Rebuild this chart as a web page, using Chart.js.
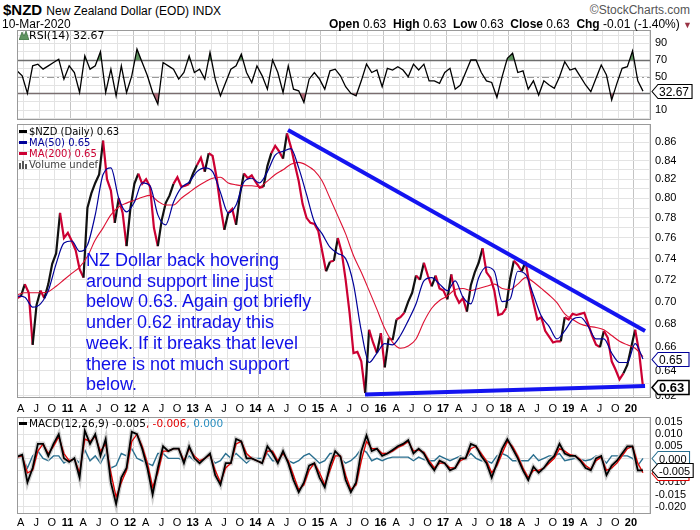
<!DOCTYPE html>
<html>
<head>
<meta charset="utf-8">
<script src="https://cdn.jsdelivr.net/npm/chart.js@4/dist/chart.umd.min.js"></script>
<style>
body{margin:0;background:#fff;font-family:"Liberation Sans",Arial,sans-serif;}
#wrap{position:relative;width:700px;height:530px;overflow:hidden;background:#fff;}
canvas{position:absolute;left:0;}
.t{position:absolute;white-space:nowrap;color:#000;}
.lg{position:absolute;left:19px;font-family:"DejaVu Sans",Verdana,sans-serif;font-size:10px;line-height:11px;white-space:nowrap;}
.dash{display:inline-block;width:8px;height:3px;vertical-align:middle;margin-right:2px;margin-top:-2px;}
#note{position:absolute;left:86px;top:250px;font-size:18px;line-height:20.7px;color:#0f0fe8;white-space:nowrap;}
</style>
</head>
<body>
<div id="wrap">
  <canvas id="rsiChart" width="700" height="90" style="top:30px"></canvas>
  <canvas id="priceChart" width="700" height="290" style="top:124px"></canvas>
  <canvas id="macdChart" width="700" height="113" style="top:417px"></canvas>

  <div class="t" style="left:3px;top:1px;font-size:15px;"><b>$NZD</b> <span style="font-size:12px">New Zealand Dollar (EOD) INDX</span></div>
  <div class="t" style="left:2px;top:17px;font-size:12px;">10-Mar-2020</div>
  <div class="t" style="right:10px;top:3px;font-size:12px;color:#555;">&copy;StockCharts.com</div>
  <div class="t" style="right:8px;top:17px;font-size:12px;"><b>Open</b> 0.63 &nbsp;<b>High</b> 0.63 &nbsp;<b>Low</b> 0.63 &nbsp;<b>Close</b> 0.63 &nbsp;<b>Chg</b> -0.01 (-1.40%) <span style="color:#993344;font-size:9px">&#9660;</span></div>

  <div class="lg" style="top:30px;font-size:11px;">
    <svg width="10" height="10" style="vertical-align:-1px"><polygon points="0,10 3,2 5,6 7,1 10,10" fill="#5f9460" stroke="#2f5f30" stroke-width="0.6"/></svg>RSI(14) 32.67
  </div>
  <div class="lg" style="top:126px;">
    <div><span class="dash" style="background:#000"></span>$NZD (Daily) 0.63</div>
    <div style="color:#000099"><span class="dash" style="background:#000099"></span>MA(50) 0.65</div>
    <div style="color:#cc0033"><span class="dash" style="background:#cc0033"></span>MA(200) 0.65</div>
    <div style="color:#444"><svg width="10" height="9" style="vertical-align:-1px"><rect x="0" y="3" width="2" height="6" fill="#555"/><rect x="3" y="1" width="2" height="8" fill="#555"/><rect x="6" y="4" width="2" height="5" fill="#555"/></svg>Volume undef</div>
  </div>
  <div class="lg" style="top:418px;font-size:10.5px;"><span class="dash" style="background:#000"></span>MACD(12,26,9) -0.005<span style="color:#e00000">, -0.006</span><span style="color:#2b8fc0">, 0.000</span></div>

  <div id="note">NZ Dollar back hovering<br>around support line just<br>below 0.63. Again got briefly<br>under 0.62 intraday this<br>week. If it breaks that level<br>there is not much support<br>below.</div>
</div>

<script>
// sampling grid (decimal years) for each group of series
const priceStart = 2010.145, priceStep = 1/16;
const maStart = 2010.145, maStep = 1/8;
const oscStart = 2010.145, oscStep = 1/12;

// $NZD daily close
const price = [
  0.703,0.705,0.716,0.708,0.662,0.697,0.710,0.703,0.716,0.735,
  0.745,0.785,0.760,0.765,0.757,0.748,0.730,0.722,0.790,0.805,
  0.816,0.825,0.862,0.820,0.808,0.775,0.800,0.785,0.752,0.790,
  0.815,0.826,0.815,0.820,0.812,0.770,0.752,0.778,0.795,0.803,
  0.815,0.822,0.812,0.813,0.815,0.826,0.835,0.843,0.828,0.848,
  0.845,0.822,0.792,0.768,0.785,0.789,0.773,0.804,0.826,0.821,
  0.824,0.817,0.811,0.812,0.834,0.848,0.856,0.850,0.842,0.870,
  0.855,0.836,0.818,0.794,0.780,0.775,0.774,0.767,0.747,0.728,
  0.737,0.738,0.760,0.746,0.720,0.690,0.655,0.656,0.648,0.622,
  0.675,0.664,0.655,0.672,0.643,0.668,0.666,0.684,0.686,0.690,
  0.700,0.708,0.724,0.720,0.736,0.724,0.714,0.724,0.712,0.710,
  0.702,0.725,0.706,0.699,0.703,0.691,0.715,0.727,0.736,0.750,
  0.727,0.722,0.710,0.688,0.689,0.694,0.720,0.738,0.734,0.728,
  0.737,0.715,0.699,0.684,0.686,0.674,0.669,0.664,0.665,0.665,
  0.686,0.684,0.689,0.688,0.689,0.690,0.680,0.670,0.662,0.660,
  0.674,0.668,0.648,0.641,0.633,0.638,0.645,0.660,0.675,0.656,0.627
];
const ma50 = [
  0.705,0.704,0.695,0.698,0.710,0.735,0.755,0.757,0.747,0.753,0.783,0.825,0.832,0.800,0.786,0.796,0.816,0.813,0.783,0.773,0.796,
  0.811,0.817,0.828,0.832,0.828,0.806,0.785,0.793,0.817,0.821,0.816,0.828,0.846,0.850,0.853,0.832,0.804,0.776,0.764,0.751,0.745,
  0.740,0.716,0.674,0.647,0.655,0.663,0.662,0.670,0.683,0.698,0.719,0.722,0.716,0.710,0.719,0.704,0.698,0.722,0.732,0.728,
  0.700,0.702,0.728,0.725,0.706,0.687,0.678,0.667,0.674,0.684,0.686,0.678,0.667,0.667,0.655,0.647,0.647,0.663,0.650
];
const ma200 = [
  0.706,0.708,0.708,0.708,0.709,0.714,0.720,0.726,0.732,0.742,0.758,0.770,0.783,0.791,0.795,0.798,0.801,0.803,0.797,0.793,0.793,
  0.800,0.806,0.812,0.817,0.821,0.822,0.816,0.814,0.813,0.813,0.812,0.818,0.825,0.830,0.836,0.838,0.835,0.829,0.818,0.800,0.782,
  0.764,0.743,0.727,0.710,0.693,0.676,0.664,0.659,0.661,0.667,0.682,0.694,0.701,0.705,0.711,0.712,0.710,0.712,0.714,0.716,
  0.712,0.711,0.716,0.722,0.718,0.712,0.706,0.699,0.689,0.684,0.680,0.678,0.677,0.675,0.670,0.665,0.662,0.659,0.652
];
const rsi = [
  57,51,30,63,65,59,63,67,71,47,
  63,55,31,75,59,63,80,31,59,27,
  63,31,51,83,67,51,31,17,67,63,
  59,47,55,75,55,59,47,79,47,27,
  43,59,63,77,55,43,63,51,35,70,
  55,31,63,35,33,19,47,55,47,35,
  57,59,51,38,30,27,45,65,55,58,
  38,60,58,62,58,50,65,58,65,45,
  45,42,55,60,35,40,55,70,70,55,
  45,43,25,50,72,78,55,57,35,45,
  28,45,40,36,50,68,58,60,50,40,
  32,48,64,52,22,42,60,62,81,45,32.67
];
const macd = [
  0.0007,0.0015,-0.010,-0.004,0.006,0.006,0.001,0.006,0.010,0.000,
  -0.0015,0.000,-0.008,0.0115,0.006,0.010,0.001,0.008,-0.010,-0.019,
  -0.008,-0.004,0.011,0.010,0.004,-0.004,-0.015,-0.004,0.005,0.003,
  0.004,0.004,-0.002,0.005,0.000,-0.002,0.000,0.002,-0.007,-0.011,
  -0.002,-0.002,0.008,0.007,0.000,0.000,-0.001,-0.002,0.005,0.002,
  -0.002,0.003,-0.002,-0.009,-0.014,-0.010,-0.003,-0.002,-0.008,-0.012,
  -0.003,0.003,0.0007,-0.009,-0.014,-0.010,0.003,0.0095,0.003,0.004,
  0.001,0.002,0.0035,0.005,0.006,0.0075,0.002,0.004,0.002,-0.002,
  -0.005,-0.001,-0.002,-0.005,-0.004,0.000,0.000,0.006,0.005,0.001,
  -0.002,-0.008,-0.002,0.004,0.008,0.004,0.000,-0.005,-0.009,-0.0035,
  -0.006,-0.004,-0.001,0.001,0.006,0.002,0.001,0.001,-0.001,-0.004,
  -0.005,0.000,0.001,-0.007,-0.003,-0.001,0.002,0.005,0.005,-0.005,-0.005
];
const signal = [
  0.0005,0.001,-0.006,-0.005,0.003,0.006,0.002,0.005,0.009,0.002,
  -0.001,-0.0003,-0.006,0.008,0.007,0.009,0.003,0.006,-0.006,-0.016,
  -0.010,-0.005,0.007,0.010,0.005,-0.002,-0.012,-0.006,0.003,0.003,
  0.004,0.004,-0.001,0.004,0.001,-0.001,0.000,0.0015,-0.005,-0.010,
  -0.004,-0.002,0.006,0.007,0.002,0.000,-0.001,-0.002,0.003,0.003,
  -0.001,0.002,-0.001,-0.007,-0.013,-0.011,-0.005,-0.002,-0.006,-0.011,
  -0.005,0.001,0.001,-0.007,-0.013,-0.011,-0.001,0.007,0.004,0.004,
  0.002,0.002,0.003,0.0045,0.0055,0.007,0.003,0.0035,0.0025,-0.001,
  -0.004,-0.002,-0.002,-0.004,-0.004,-0.001,0.000,0.004,0.005,0.002,
  -0.001,-0.006,-0.003,0.002,0.007,0.005,0.001,-0.004,-0.008,-0.005,
  -0.005,-0.004,-0.002,0.000,0.004,0.003,0.0015,0.001,-0.0005,-0.003,
  -0.0045,-0.001,0.0005,-0.005,-0.004,-0.002,0.001,0.004,0.005,-0.002,-0.006
];
const hist = [
  0.0002,0.0005,-0.004,0.001,0.003,0.000,-0.001,0.001,0.001,-0.002,
  -0.0005,0.0003,-0.002,0.0035,-0.001,0.001,-0.002,0.002,-0.004,-0.003,
  0.002,0.001,0.004,0.000,-0.001,-0.002,-0.003,0.002,0.002,0.000,
  0.000,0.000,-0.001,0.001,-0.001,-0.001,0.000,0.0005,-0.002,-0.001,
  0.002,0.000,0.002,0.000,-0.002,0.000,0.000,0.000,0.002,-0.001,
  -0.001,0.001,-0.001,-0.002,-0.001,0.001,0.002,0.000,-0.002,-0.001,
  0.002,0.002,0.000,-0.002,-0.001,0.001,0.004,0.0025,-0.001,0.000,
  -0.001,0.000,0.0005,0.0005,0.0005,0.0005,-0.001,0.0005,-0.0005,-0.001,
  -0.001,0.001,0.000,-0.001,0.000,0.001,0.000,0.002,0.000,-0.001,
  -0.001,-0.002,0.001,0.002,0.001,-0.001,-0.001,-0.001,-0.001,0.0015,
  -0.001,0.000,0.001,0.001,0.002,-0.001,-0.0005,0.000,-0.0005,-0.001,
  -0.0005,0.001,0.0005,-0.002,0.001,0.001,0.001,0.001,0.000,-0.003,0.000
];
// hand-drawn trend lines: [start, end] dates and prices
const resistX = [2014.474, 2020.178], resistY = [0.8738, 0.674];
const supportX = [2015.704, 2020.178], supportY = [0.6208, 0.6277];

const xMin = 2010.145, xMax = 2020.273, lastLabel = 2020.2;
const FONT = '"Liberation Sans", Arial, sans-serif';
const RED = '#cc0033';

const pts = (arr, start, step) => arr.map((v, i) => ({x: start + i*step, y: v}));
const isYear = v => v != null && Math.abs(v - Math.round(v)) < 1e-6;

function quarterTicks(){
  const t = [];
  for (let y = 2010; y <= 2020; y++)
    for (let q = 0; q < 4; q++){
      const v = y + q/4;
      if (v >= xMin && v <= xMax) t.push({value: v});
    }
  return t;
}
function tickLabel(v){
  if (v > lastLabel) return '';
  const yr = Math.floor(v + 1e-9), q = Math.round((v - yr)*4);
  return q === 0 ? String(yr % 100).padStart(2, '0') : 'AJO'[q-1];
}

function xAxis(show, pad){
  return {
    type: 'linear', min: xMin, max: xMax,
    afterBuildTicks: a => { a.ticks = quarterTicks(); },
    afterFit: a => { a.height = show ? 16 : 0; a.paddingLeft = 0; a.paddingRight = 0; },
    grid: {color: c => isYear(c.tick && c.tick.value) ? '#c4c4c4' : '#e3e3e3', drawTicks: false},
    border: {display: false},
    ticks: {
      display: show, autoSkip: false, maxRotation: 0, padding: pad, labelOffset: -3, color: '#000',
      font: c => ({family: FONT, size: 11, weight: isYear(c.tick && c.tick.value) ? 'bold' : 'normal'}),
      callback: v => tickLabel(v)
    }
  };
}
function yAxis(extra, ticksExtra){
  return Object.assign({
    position: 'right',
    afterFit: a => { a.width = 49; a.paddingTop = 0; a.paddingBottom = 0; },
    grid: {color: '#e3e3e3', drawTicks: false},
    border: {display: false},
    ticks: Object.assign({padding: 4, autoSkip: false, color: '#000', font: {family: FONT, size: 11}}, ticksExtra)
  }, extra);
}

const framePlugin = {
  id: 'frame',
  afterDatasetsDraw(c){
    const a = c.chartArea, ctx = c.ctx;
    ctx.save();
    ctx.strokeStyle = '#9a9a9a'; ctx.lineWidth = 1;
    ctx.strokeRect(Math.round(a.left) + 0.5, Math.round(a.top) + 0.5, Math.round(a.right - a.left) - 1, Math.round(a.bottom - a.top) - 1);
    ctx.restore();
  }
};
const tagPlugin = {
  id: 'tags',
  afterDraw(c, args, opts){
    const ys = c.scales.y, ctx = c.ctx, L = c.chartArea.right;
    (opts.items || []).forEach(t => {
      const py = Math.round(ys.getPixelForValue(t.value)) + 0.5;
      ctx.save();
      ctx.font = (t.bold ? 'bold 13px ' : (opts.size || 12) + 'px ') + FONT;
      const w = Math.max(38, ctx.measureText(t.text).width + 11);
      ctx.beginPath();
      ctx.moveTo(L + 1, py); ctx.lineTo(L + 7, py - 7); ctx.lineTo(L + w, py - 7);
      ctx.lineTo(L + w, py + 7); ctx.lineTo(L + 7, py + 7); ctx.closePath();
      ctx.fillStyle = '#fff'; ctx.fill();
      ctx.lineWidth = t.bold ? 1.6 : 1.1; ctx.strokeStyle = t.color; ctx.stroke();
      ctx.fillStyle = '#000'; ctx.textBaseline = 'middle'; ctx.textAlign = 'left';
      ctx.fillText(t.text, L + 8, py + 1);
      ctx.restore();
    });
  }
};
const refLinePlugin = {
  id: 'refLines',
  beforeDatasetsDraw(c, args, opts){
    const ys = c.scales.y, a = c.chartArea, ctx = c.ctx;
    (opts.lines || []).forEach(l => {
      const py = Math.round(ys.getPixelForValue(l.value)) + 0.5;
      ctx.save();
      ctx.strokeStyle = l.color; ctx.lineWidth = l.width; ctx.setLineDash(l.dash || []);
      ctx.beginPath(); ctx.moveTo(a.left, py); ctx.lineTo(a.right, py); ctx.stroke();
      ctx.restore();
    });
  }
};

function baseOptions(x, y, plugins){
  return {
    responsive: false, animation: false, events: [],
    layout: {padding: {left: 17, right: 0, top: 0, bottom: 0}},
    elements: {point: {radius: 0}, line: {tension: 0}},
    plugins: Object.assign({legend: {display: false}, tooltip: {enabled: false}}, plugins),
    scales: {x: x, y: y}
  };
}

// RSI panel
const rsiTicks = [0,10,20,30,40,50,60,70,80,90,100];
new Chart(document.getElementById('rsiChart'), {
  type: 'line',
  data: {datasets: [
    {data: pts(rsi, oscStart, oscStep), borderColor: '#000', borderWidth: 1.3,
     fill: {target: {value: 70}, above: '#5f9460', below: 'rgba(0,0,0,0)'}},
    {data: pts(rsi, oscStart, oscStep), borderWidth: 0, borderColor: 'rgba(0,0,0,0)',
     fill: {target: {value: 30}, above: 'rgba(0,0,0,0)', below: '#b06a78'}}
  ]},
  options: baseOptions(xAxis(false, 0),
    yAxis({min: -2, max: 106, afterBuildTicks: a => { a.ticks = rsiTicks.map(v => ({value: v})); }},
          {callback: v => (v % 20 === 10) ? String(v) : ''}),
    {tags: {items: [{value: rsi[rsi.length-1], text: '32.67', color: '#000'}]},
     refLines: {lines: [
       {value: 70, color: '#6e6e6e', width: 1.5},
       {value: 30, color: '#6e6e6e', width: 1.5},
       {value: 50, color: '#9a9a9a', width: 1, dash: [7, 3, 2, 3]}
     ]}}),
  plugins: [refLinePlugin, framePlugin, tagPlugin]
});

// price panel
const priceTicks = [];
for (let c = 62; c <= 87; c++) priceTicks.push(c/100);
new Chart(document.getElementById('priceChart'), {
  type: 'line',
  data: {datasets: [
    {data: [{x: resistX[0], y: resistY[0]}, {x: resistX[1], y: resistY[1]}], borderColor: '#1414f0', borderWidth: 4, order: 0},
    {data: [{x: supportX[0], y: supportY[0]}, {x: supportX[1], y: supportY[1]}], borderColor: '#1414f0', borderWidth: 4, order: 0},
    {data: pts(ma50, maStart, maStep), borderColor: '#000099', borderWidth: 1.2, cubicInterpolationMode: 'monotone', tension: 0.4, order: 1},
    {data: pts(ma200, maStart, maStep), borderColor: '#dd1133', borderWidth: 1.1, cubicInterpolationMode: 'monotone', tension: 0.4, order: 2},
    {data: pts(price, priceStart, priceStep), borderColor: RED, borderWidth: 2.2, order: 3,
     segment: {borderColor: c => c.p1.parsed.y > c.p0.parsed.y * 1.01 ? '#111' : RED}}
  ]},
  options: baseOptions(xAxis(true, 4),
    yAxis({type: 'logarithmic', min: 0.618, max: 0.8806,
           afterBuildTicks: a => { a.ticks = priceTicks.filter(v => v >= a.min && v <= a.max).map(v => ({value: v})); }},
          {callback: v => (Math.round(v*100) % 2 === 0) ? Number(v).toFixed(2) : ''}),
    {tags: {items: [
      {value: ma50[ma50.length-1], text: '0.65', color: '#000099'},
      {value: price[price.length-1], text: '0.63', color: '#000', bold: true}
    ]}}),
  plugins: [framePlugin, tagPlugin]
});

// MACD panel
const macdTicks = [-0.020,-0.015,-0.010,-0.005,0,0.005,0.010,0.015];
new Chart(document.getElementById('macdChart'), {
  type: 'line',
  data: {datasets: [
    {data: pts(macd, oscStart, oscStep), borderColor: '#000', borderWidth: 1.8, order: 0},
    {data: pts(signal, oscStart, oscStep), borderColor: '#e00000', borderWidth: 1.3, order: 1},
    {data: pts(macd, oscStart, oscStep), borderColor: '#cfcfcf', borderWidth: 4.5, order: 2},
    {data: pts(hist, oscStart, oscStep), borderColor: '#2a6f8f', borderWidth: 1.4, order: 3}
  ]},
  options: baseOptions(xAxis(true, 2),
    yAxis({min: -0.0231, max: 0.01715, afterBuildTicks: a => { a.ticks = macdTicks.map(v => ({value: v})); }},
          {callback: v => Number(v).toFixed(3)}),
    {tags: {size: 11, items: [
      {value: hist[hist.length-1], text: '0.000', color: '#2a6f8f'},
      {value: signal[signal.length-1], text: '', color: '#e00000'},
      {value: macd[macd.length-1], text: '-0.005', color: '#000'}
    ]}}),
  plugins: [framePlugin, tagPlugin]
});
</script>
</body>
</html>
